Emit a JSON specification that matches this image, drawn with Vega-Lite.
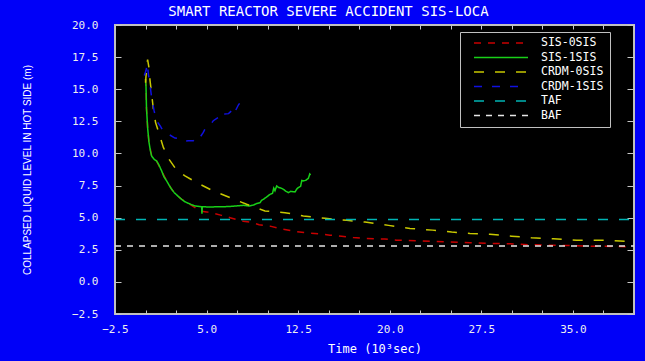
{
  "$schema": "https://vega.github.io/schema/vega-lite/v6.json",
  "width": 519,
  "height": 289,
  "autosize": {"type": "none"},
  "padding": {"left": 115, "top": 25, "right": 11, "bottom": 47},
  "background": "#0000f8",
  "title": {
    "text": "SMART REACTOR SEVERE ACCIDENT   SIS-LOCA",
    "anchor": "middle",
    "dx": -46,
    "dy": 18,
    "offset": 7,
    "baseline": "alphabetic",
    "color": "white",
    "font": "DejaVu Sans Mono",
    "fontSize": 14,
    "fontWeight": "normal"
  },
  "config": {
    "view": {"fill": "black", "stroke": "#c0c0c0", "strokeWidth": 2},
    "axis": {"grid": false, "domain": false, "tickColor": "#c8c8c8", "tickWidth": 1, "labelColor": "#eeeeee", "labelFont": "DejaVu Sans Mono", "labelFontSize": 11, "labelFlush": false, "labelOverlap": false, "labelBound": false, "titleColor": "white", "titleFontWeight": "normal"},
    "legend": {
      "orient": "none",
      "legendX": 345,
      "legendY": 7,
      "symbolType": "stroke",
      "symbolSize": 2916,
      "symbolStrokeWidth": 1.5,
      "symbolOffset": 7,
      "clipHeight": 10,
      "rowPadding": 2.5,
      "labelColor": "white",
      "labelFont": "DejaVu Sans Mono",
      "labelFontSize": 11.5,
      "labelOffset": 12,
      "padding": 6,
      "strokeColor": "#c0c0c0",
      "fillColor": "black",
      "cornerRadius": 0
    }
  },
  "data": {
    "values": [
      {"series": "SIS-0SIS", "t": 0.0, "level": 15.8},
      {"series": "SIS-0SIS", "t": 0.04, "level": 15.2},
      {"series": "SIS-0SIS", "t": 0.08, "level": 13.5},
      {"series": "SIS-0SIS", "t": 0.18, "level": 11.9},
      {"series": "SIS-0SIS", "t": 0.28, "level": 10.9},
      {"series": "SIS-0SIS", "t": 0.5, "level": 9.8},
      {"series": "SIS-0SIS", "t": 0.9, "level": 9.42},
      {"series": "SIS-0SIS", "t": 1.32, "level": 8.64},
      {"series": "SIS-0SIS", "t": 1.73, "level": 7.86},
      {"series": "SIS-0SIS", "t": 2.14, "level": 7.21},
      {"series": "SIS-0SIS", "t": 2.55, "level": 6.77},
      {"series": "SIS-0SIS", "t": 2.96, "level": 6.43},
      {"series": "SIS-0SIS", "t": 3.5, "level": 6.12},
      {"series": "SIS-0SIS", "t": 4.05, "level": 5.78},
      {"series": "SIS-0SIS", "t": 4.46, "level": 5.52},
      {"series": "SIS-0SIS", "t": 5.0, "level": 5.45},
      {"series": "SIS-0SIS", "t": 5.55, "level": 5.35},
      {"series": "SIS-0SIS", "t": 6.23, "level": 5.18},
      {"series": "SIS-0SIS", "t": 6.92, "level": 5.0},
      {"series": "SIS-0SIS", "t": 7.5, "level": 4.85},
      {"series": "SIS-0SIS", "t": 8.0, "level": 4.72},
      {"series": "SIS-0SIS", "t": 8.56, "level": 4.65},
      {"series": "SIS-0SIS", "t": 9.3, "level": 4.45},
      {"series": "SIS-0SIS", "t": 10.2, "level": 4.34},
      {"series": "SIS-0SIS", "t": 11.29, "level": 4.09},
      {"series": "SIS-0SIS", "t": 12.1, "level": 3.95},
      {"series": "SIS-0SIS", "t": 13.06, "level": 3.83},
      {"series": "SIS-0SIS", "t": 14.15, "level": 3.75},
      {"series": "SIS-0SIS", "t": 15.1, "level": 3.64},
      {"series": "SIS-0SIS", "t": 16.06, "level": 3.56},
      {"series": "SIS-0SIS", "t": 17.0, "level": 3.46},
      {"series": "SIS-0SIS", "t": 17.98, "level": 3.38},
      {"series": "SIS-0SIS", "t": 19.6, "level": 3.33},
      {"series": "SIS-0SIS", "t": 20.57, "level": 3.25},
      {"series": "SIS-0SIS", "t": 21.5, "level": 3.23},
      {"series": "SIS-0SIS", "t": 22.5, "level": 3.2},
      {"series": "SIS-0SIS", "t": 23.4, "level": 3.15},
      {"series": "SIS-0SIS", "t": 24.9, "level": 3.1},
      {"series": "SIS-0SIS", "t": 26.57, "level": 3.05},
      {"series": "SIS-0SIS", "t": 28.2, "level": 2.99},
      {"series": "SIS-0SIS", "t": 29.85, "level": 2.97},
      {"series": "SIS-0SIS", "t": 31.5, "level": 2.89},
      {"series": "SIS-0SIS", "t": 32.85, "level": 2.86},
      {"series": "SIS-0SIS", "t": 34.2, "level": 2.84},
      {"series": "SIS-0SIS", "t": 36.4, "level": 2.78},
      {"series": "SIS-0SIS", "t": 38.3, "level": 2.76},
      {"series": "SIS-0SIS", "t": 39.8, "level": 2.73},

      {"series": "SIS-1SIS", "t": 0.0, "level": 15.8},
      {"series": "SIS-1SIS", "t": 0.04, "level": 15.2},
      {"series": "SIS-1SIS", "t": 0.08, "level": 13.5},
      {"series": "SIS-1SIS", "t": 0.18, "level": 11.9},
      {"series": "SIS-1SIS", "t": 0.28, "level": 10.9},
      {"series": "SIS-1SIS", "t": 0.4, "level": 10.2},
      {"series": "SIS-1SIS", "t": 0.5, "level": 9.8},
      {"series": "SIS-1SIS", "t": 0.7, "level": 9.55},
      {"series": "SIS-1SIS", "t": 0.9, "level": 9.42},
      {"series": "SIS-1SIS", "t": 1.1, "level": 9.1},
      {"series": "SIS-1SIS", "t": 1.32, "level": 8.64},
      {"series": "SIS-1SIS", "t": 1.5, "level": 8.2},
      {"series": "SIS-1SIS", "t": 1.73, "level": 7.86},
      {"series": "SIS-1SIS", "t": 1.95, "level": 7.5},
      {"series": "SIS-1SIS", "t": 2.14, "level": 7.21},
      {"series": "SIS-1SIS", "t": 2.35, "level": 6.95},
      {"series": "SIS-1SIS", "t": 2.55, "level": 6.77},
      {"series": "SIS-1SIS", "t": 2.75, "level": 6.6},
      {"series": "SIS-1SIS", "t": 2.96, "level": 6.43},
      {"series": "SIS-1SIS", "t": 3.2, "level": 6.25},
      {"series": "SIS-1SIS", "t": 3.5, "level": 6.12},
      {"series": "SIS-1SIS", "t": 3.8, "level": 6.0},
      {"series": "SIS-1SIS", "t": 4.05, "level": 5.91},
      {"series": "SIS-1SIS", "t": 4.4, "level": 5.87},
      {"series": "SIS-1SIS", "t": 4.6, "level": 5.85},
      {"series": "SIS-1SIS", "t": 4.62, "level": 5.3},
      {"series": "SIS-1SIS", "t": 4.65, "level": 5.85},
      {"series": "SIS-1SIS", "t": 5.27, "level": 5.83},
      {"series": "SIS-1SIS", "t": 6.0, "level": 5.85},
      {"series": "SIS-1SIS", "t": 6.65, "level": 5.86},
      {"series": "SIS-1SIS", "t": 7.3, "level": 5.9},
      {"series": "SIS-1SIS", "t": 8.0, "level": 5.96},
      {"series": "SIS-1SIS", "t": 8.5, "level": 5.9},
      {"series": "SIS-1SIS", "t": 8.83, "level": 5.98},
      {"series": "SIS-1SIS", "t": 9.1, "level": 6.1},
      {"series": "SIS-1SIS", "t": 9.38, "level": 6.17},
      {"series": "SIS-1SIS", "t": 9.5, "level": 6.35},
      {"series": "SIS-1SIS", "t": 9.65, "level": 6.43},
      {"series": "SIS-1SIS", "t": 9.9, "level": 6.6},
      {"series": "SIS-1SIS", "t": 10.2, "level": 6.82},
      {"series": "SIS-1SIS", "t": 10.4, "level": 6.9},
      {"series": "SIS-1SIS", "t": 10.5, "level": 7.3},
      {"series": "SIS-1SIS", "t": 10.6, "level": 7.1},
      {"series": "SIS-1SIS", "t": 10.74, "level": 7.47},
      {"series": "SIS-1SIS", "t": 10.9, "level": 7.35},
      {"series": "SIS-1SIS", "t": 11.1, "level": 7.3},
      {"series": "SIS-1SIS", "t": 11.29, "level": 7.21},
      {"series": "SIS-1SIS", "t": 11.5, "level": 7.05},
      {"series": "SIS-1SIS", "t": 11.69, "level": 6.95},
      {"series": "SIS-1SIS", "t": 11.9, "level": 7.05},
      {"series": "SIS-1SIS", "t": 12.24, "level": 7.0},
      {"series": "SIS-1SIS", "t": 12.4, "level": 7.25},
      {"series": "SIS-1SIS", "t": 12.51, "level": 7.34},
      {"series": "SIS-1SIS", "t": 12.7, "level": 7.45},
      {"series": "SIS-1SIS", "t": 12.8, "level": 7.9},
      {"series": "SIS-1SIS", "t": 12.92, "level": 7.86},
      {"series": "SIS-1SIS", "t": 13.1, "level": 7.9},
      {"series": "SIS-1SIS", "t": 13.33, "level": 8.05},
      {"series": "SIS-1SIS", "t": 13.45, "level": 8.4},
      {"series": "SIS-1SIS", "t": 13.52, "level": 8.33},

      {"series": "CRDM-0SIS", "t": 0.0, "level": 15.5},
      {"series": "CRDM-0SIS", "t": 0.1, "level": 16.8},
      {"series": "CRDM-0SIS", "t": 0.17, "level": 17.3},
      {"series": "CRDM-0SIS", "t": 0.28, "level": 16.7},
      {"series": "CRDM-0SIS", "t": 0.37, "level": 15.67},
      {"series": "CRDM-0SIS", "t": 0.5, "level": 14.63},
      {"series": "CRDM-0SIS", "t": 0.64, "level": 13.46},
      {"series": "CRDM-0SIS", "t": 0.82, "level": 12.42},
      {"series": "CRDM-0SIS", "t": 1.12, "level": 11.5},
      {"series": "CRDM-0SIS", "t": 1.46, "level": 10.47},
      {"series": "CRDM-0SIS", "t": 1.92, "level": 9.55},
      {"series": "CRDM-0SIS", "t": 2.55, "level": 8.7},
      {"series": "CRDM-0SIS", "t": 3.23, "level": 8.25},
      {"series": "CRDM-0SIS", "t": 4.19, "level": 7.73},
      {"series": "CRDM-0SIS", "t": 5.55, "level": 7.08},
      {"series": "CRDM-0SIS", "t": 6.92, "level": 6.56},
      {"series": "CRDM-0SIS", "t": 8.28, "level": 6.04},
      {"series": "CRDM-0SIS", "t": 9.0, "level": 5.8},
      {"series": "CRDM-0SIS", "t": 9.78, "level": 5.52},
      {"series": "CRDM-0SIS", "t": 11.42, "level": 5.39},
      {"series": "CRDM-0SIS", "t": 12.92, "level": 5.13},
      {"series": "CRDM-0SIS", "t": 14.7, "level": 4.95},
      {"series": "CRDM-0SIS", "t": 16.48, "level": 4.79},
      {"series": "CRDM-0SIS", "t": 17.98, "level": 4.66},
      {"series": "CRDM-0SIS", "t": 19.9, "level": 4.4},
      {"series": "CRDM-0SIS", "t": 21.66, "level": 4.16},
      {"series": "CRDM-0SIS", "t": 23.5, "level": 4.03},
      {"series": "CRDM-0SIS", "t": 25.07, "level": 3.88},
      {"series": "CRDM-0SIS", "t": 26.57, "level": 3.77},
      {"series": "CRDM-0SIS", "t": 28.2, "level": 3.7},
      {"series": "CRDM-0SIS", "t": 29.98, "level": 3.56},
      {"series": "CRDM-0SIS", "t": 31.6, "level": 3.44},
      {"series": "CRDM-0SIS", "t": 33.4, "level": 3.36},
      {"series": "CRDM-0SIS", "t": 35.3, "level": 3.25},
      {"series": "CRDM-0SIS", "t": 36.8, "level": 3.25},
      {"series": "CRDM-0SIS", "t": 38.04, "level": 3.23},
      {"series": "CRDM-0SIS", "t": 38.86, "level": 3.18},
      {"series": "CRDM-0SIS", "t": 39.9, "level": 3.13},

      {"series": "CRDM-1SIS", "t": -0.1, "level": 16.06},
      {"series": "CRDM-1SIS", "t": 0.04, "level": 16.45},
      {"series": "CRDM-1SIS", "t": 0.15, "level": 16.98},
      {"series": "CRDM-1SIS", "t": 0.23, "level": 16.2},
      {"series": "CRDM-1SIS", "t": 0.37, "level": 15.28},
      {"series": "CRDM-1SIS", "t": 0.5, "level": 14.38},
      {"series": "CRDM-1SIS", "t": 0.7, "level": 13.33},
      {"series": "CRDM-1SIS", "t": 0.9, "level": 12.55},
      {"series": "CRDM-1SIS", "t": 1.19, "level": 12.16},
      {"series": "CRDM-1SIS", "t": 1.46, "level": 11.72},
      {"series": "CRDM-1SIS", "t": 1.87, "level": 11.5},
      {"series": "CRDM-1SIS", "t": 2.41, "level": 11.2},
      {"series": "CRDM-1SIS", "t": 2.96, "level": 11.12},
      {"series": "CRDM-1SIS", "t": 3.2, "level": 10.95},
      {"series": "CRDM-1SIS", "t": 3.5, "level": 10.98},
      {"series": "CRDM-1SIS", "t": 3.91, "level": 10.98},
      {"series": "CRDM-1SIS", "t": 4.1, "level": 11.3},
      {"series": "CRDM-1SIS", "t": 4.32, "level": 11.2},
      {"series": "CRDM-1SIS", "t": 4.46, "level": 11.25},
      {"series": "CRDM-1SIS", "t": 4.73, "level": 11.64},
      {"series": "CRDM-1SIS", "t": 4.87, "level": 11.9},
      {"series": "CRDM-1SIS", "t": 5.28, "level": 12.16},
      {"series": "CRDM-1SIS", "t": 5.55, "level": 12.55},
      {"series": "CRDM-1SIS", "t": 5.96, "level": 12.81},
      {"series": "CRDM-1SIS", "t": 6.1, "level": 12.81},
      {"series": "CRDM-1SIS", "t": 6.3, "level": 13.2},
      {"series": "CRDM-1SIS", "t": 6.5, "level": 13.07},
      {"series": "CRDM-1SIS", "t": 6.8, "level": 13.1},
      {"series": "CRDM-1SIS", "t": 7.05, "level": 13.33},
      {"series": "CRDM-1SIS", "t": 7.2, "level": 13.6},
      {"series": "CRDM-1SIS", "t": 7.35, "level": 13.3},
      {"series": "CRDM-1SIS", "t": 7.6, "level": 13.77},
      {"series": "CRDM-1SIS", "t": 7.7, "level": 13.9},

      {"series": "TAF", "t": -2.5, "level": 4.86},
      {"series": "TAF", "t": 40.0, "level": 4.86},
      {"series": "BAF", "t": -2.5, "level": 2.8},
      {"series": "BAF", "t": 40.0, "level": 2.8}
    ]
  },
  "layer": [
    {
      "transform": [{"filter": "datum.series !== 'TAF' && datum.series !== 'BAF'"}],
      "mark": {"type": "line", "strokeWidth": 1.5, "clip": true},
      "encoding": {
        "x": {
          "field": "t", "type": "quantitative",
          "scale": {"domain": [-2.5, 40], "nice": false, "zero": false},
          "axis": {
            "orient": "bottom",
            "values": [-2.5, 0, 2.5, 5, 7.5, 10, 12.5, 15, 17.5, 20, 22.5, 25, 27.5, 30, 32.5, 35, 37.5, 40],
            "labelExpr": "abs((datum.value + 2.5) / 7.5 - round((datum.value + 2.5) / 7.5)) < 0.01 ? format(datum.value, '.1f') : ''",
            "tickSize": -4,
            "labelPadding": 13,
            "labelBaseline": "top",
            "title": "Time (10³sec)",
            "titleFont": "DejaVu Sans Mono",
            "titleFontSize": 12,
            "titleBaseline": "middle",
            "titleY": 34
          }
        },
        "y": {
          "field": "level", "type": "quantitative",
          "scale": {"domain": [-2.5, 20], "nice": false, "zero": false},
          "axis": {
            "orient": "left",
            "values": [-2.5, 0, 2.5, 5, 7.5, 10, 12.5, 15, 17.5, 20],
            "format": ".1f",
            "tickSize": -6,
            "labelPadding": 23,
            "labelAlign": "right",
            "labelBaseline": "middle",
            "title": "COLLAPSED LIQUID LEVEL IN HOT SIDE (m)",
            "titleFont": "Liberation Sans",
            "titleFontSize": 10,
            "titleAngle": -90,
            "titleBaseline": "middle",
            "titleAlign": "center",
            "titleX": -88,
            "titleY": 144.5
          }
        },
        "color": {
          "field": "series", "type": "nominal",
          "scale": {
            "domain": ["SIS-0SIS", "SIS-1SIS", "CRDM-0SIS", "CRDM-1SIS", "TAF", "BAF"],
            "range": ["#c80000", "#18d018", "#c8c800", "#1010e0", "#00b4b4", "#e6e6e6"]
          },
          "legend": {"title": null}
        },
        "strokeDash": {
          "field": "series", "type": "nominal",
          "scale": {
            "domain": ["SIS-0SIS", "SIS-1SIS", "CRDM-0SIS", "CRDM-1SIS", "TAF", "BAF"],
            "range": [[7, 7], [1, 0], [10, 11], [8, 10], [10, 11], [6, 6]]
          },
          "legend": {"title": null}
        }
      }
    },
    {
      "transform": [{"filter": {"field": "series", "oneOf": ["TAF", "BAF"]}}],
      "mark": {"type": "line", "strokeWidth": 1.5},
      "encoding": {
        "x": {
          "field": "t", "type": "quantitative",
          "scale": {"domain": [-2.5, 40], "nice": false, "zero": false},
          "axis": {
            "orient": "top",
            "values": [-2.5, 0, 2.5, 5, 7.5, 10, 12.5, 15, 17.5, 20, 22.5, 25, 27.5, 30, 32.5, 35, 37.5, 40],
            "labels": false,
            "tickSize": -4,
            "title": null
          }
        },
        "y": {
          "field": "level", "type": "quantitative",
          "scale": {"domain": [-2.5, 20], "nice": false, "zero": false},
          "axis": {
            "orient": "right",
            "values": [-2.5, 0, 2.5, 5, 7.5, 10, 12.5, 15, 17.5, 20],
            "labels": false,
            "tickSize": -7,
            "title": null
          }
        },
        "color": {
          "field": "series", "type": "nominal",
          "scale": {
            "domain": ["SIS-0SIS", "SIS-1SIS", "CRDM-0SIS", "CRDM-1SIS", "TAF", "BAF"],
            "range": ["#c80000", "#18d018", "#c8c800", "#1010e0", "#00b4b4", "#e6e6e6"]
          },
          "legend": {"title": null}
        },
        "strokeDash": {
          "field": "series", "type": "nominal",
          "scale": {
            "domain": ["SIS-0SIS", "SIS-1SIS", "CRDM-0SIS", "CRDM-1SIS", "TAF", "BAF"],
            "range": [[7, 7], [1, 0], [10, 11], [8, 10], [10, 11], [6, 6]]
          },
          "legend": {"title": null}
        }
      }
    }
  ],
  "resolve": {"axis": {"x": "independent", "y": "independent"}}
}
